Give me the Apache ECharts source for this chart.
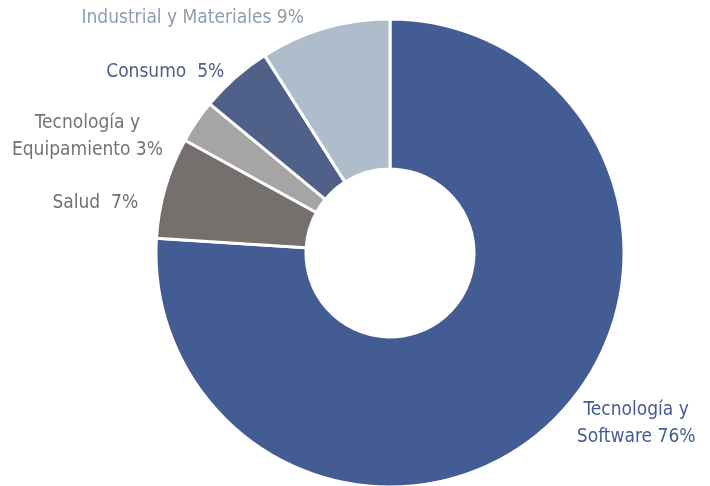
<!DOCTYPE html>
<html>
<head>
<meta charset="utf-8">
<script src="https://cdn.jsdelivr.net/npm/echarts@6/dist/echarts.min.js"></script>
<style>html,body{margin:0;padding:0;background:#fff}#c{width:710px;height:486px}</style>
</head>
<body>
<div id="c"></div>
<script>
const categories = ['Tecnología y\nSoftware', 'Salud ', 'Tecnología y\nEquipamiento', 'Consumo ', 'Industrial y Materiales'];
const values = [76, 7, 3, 5, 9];
const sliceColors = ['#445c94', '#756f6d', '#a5a5a5', '#4f6089', '#adbdcb'];
const labelColors = ['#445c94', '#756f6d', '#737373', '#4f6089', '#8d9eae'];
const labelShift = [[86, 0], [-70, 15], [-109, 15], [-70, -5], [-132, -10]];

const chart = echarts.init(document.getElementById('c'));
chart.setOption({
  animation: false,
  series: [{
    type: 'pie',
    center: [390, 253],
    radius: [84, 234],
    startAngle: 90,
    clockwise: true,
    avoidLabelOverlap: false,
    itemStyle: { borderColor: '#fff', borderWidth: 3 },
    label: {
      show: true,
      position: 'outside',
      fontFamily: 'Liberation Sans Narrow, DejaVu Sans Condensed, sans-serif',
      fontSize: 19,
      lineHeight: 27,
      distanceToLabelLine: 0,
      formatter: p => p.name + ' ' + p.value + '%'
    },
    labelLine: { show: false, length: 0, length2: 0 },
    labelLayout: p => ({ align: 'center', verticalAlign: 'middle', dx: labelShift[p.dataIndex][0], dy: labelShift[p.dataIndex][1] }),
    emphasis: { disabled: true },
    data: categories.map((n, i) => ({
      name: n, value: values[i],
      itemStyle: { color: sliceColors[i] },
      label: { color: labelColors[i] }
    }))
  }]
});
</script>
</body>
</html>
